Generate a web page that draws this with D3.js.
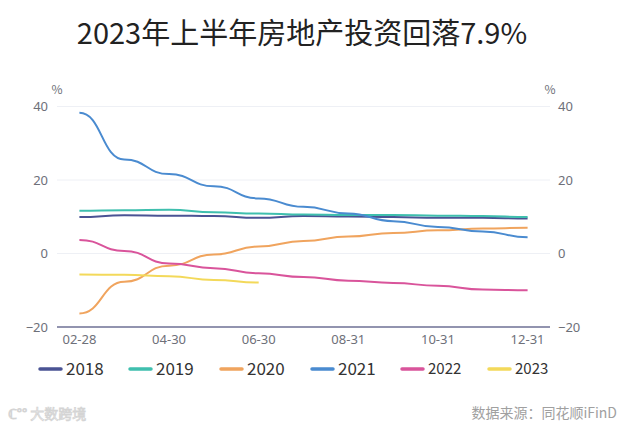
<!DOCTYPE html>
<html>
<head>
<meta charset="utf-8">
<script src="https://cdn.jsdelivr.net/npm/d3@7"></script>
<style>
  body { margin: 0; background: #fff; }
  svg { display: block; font-family: "Noto Sans CJK SC", "Noto Sans", sans-serif; }
</style>
</head>
<body>
<svg id="chart" width="625" height="434"></svg>
<script>
// 月份（累计同比）
const months = ["02-28", "03-31", "04-30", "05-31", "06-30", "07-31", "08-31", "09-30", "10-31", "11-30", "12-31"];
const years = ["2018", "2019", "2020", "2021", "2022", "2023"];
const colors = ["#4a5394", "#3fbfae", "#f0a45e", "#4a8bd0", "#d9549b", "#f3d95a"];

const v2018 = [9.9, 10.4, 10.3, 10.2, 9.7, 10.2, 10.1, 9.9, 9.7, 9.7, 9.5];
const v2019 = [11.6, 11.8, 11.9, 11.2, 10.9, 10.6, 10.5, 10.5, 10.3, 10.2, 9.9];
const v2020 = [-16.3, -7.7, -3.3, -0.3, 1.9, 3.4, 4.6, 5.6, 6.3, 6.8, 7.0];
const v2021 = [38.3, 25.6, 21.6, 18.3, 15.0, 12.7, 10.9, 8.8, 7.2, 6.0, 4.4];
const v2022 = [3.7, 0.7, -2.7, -4.0, -5.4, -6.4, -7.4, -8.0, -8.8, -9.8, -10.0];
const v2023 = [-5.7, -5.8, -6.2, -7.2, -7.9];
const seriesValues = [v2018, v2019, v2020, v2021, v2022, v2023];

const yTicks = [-20, 0, 20, 40];

const svg = d3.select("#chart");

// 绘图区
const plotLeft = 57, plotRight = 550, plotTop = 106.5, plotBottom = 327;

const xScale = d3.scaleBand().domain(months).range([plotLeft, plotRight]);
const xPos = m => xScale(m) + xScale.bandwidth() / 2;
const yScale = d3.scaleLinear().domain([-20, 40]).range([plotBottom, plotTop]);

// 标题
svg.append("text").attr("x", 302).attr("y", 44).attr("text-anchor", "middle")
    .attr("font-size", 29).attr("fill", "#222").text("2023年上半年房地产投资回落7.9%");

// 网格线
svg.append("g").selectAll("line").data(yTicks.filter(d => d !== -20)).join("line")
    .attr("x1", plotLeft).attr("x2", plotRight)
    .attr("y1", d => yScale(d)).attr("y2", d => yScale(d))
    .attr("stroke", "#eef0f5").attr("stroke-width", 1);

// 左右y轴标签
const leftAxis = d3.axisLeft(yScale).tickValues(yTicks).tickSize(0).tickPadding(9);
const gl = svg.append("g").attr("transform", `translate(${plotLeft},0)`).call(leftAxis);
gl.select(".domain").remove();
gl.selectAll("text").attr("font-size", 13).attr("fill", "#6e7079").attr("font-family", "Noto Sans, sans-serif");

const rightAxis = d3.axisRight(yScale).tickValues(yTicks).tickSize(0).tickPadding(8);
const gr = svg.append("g").attr("transform", `translate(${plotRight},0)`).call(rightAxis);
gr.select(".domain").remove();
gr.selectAll("text").attr("font-size", 13).attr("fill", "#6e7079").attr("font-family", "Noto Sans, sans-serif");

// 单位
svg.append("text").attr("x", plotLeft).attr("y", 94).attr("text-anchor", "middle")
    .attr("font-size", 12).attr("fill", "#6e7079").text("%");
svg.append("text").attr("x", plotRight).attr("y", 94).attr("text-anchor", "middle")
    .attr("font-size", 12).attr("fill", "#6e7079").text("%");

// x轴
const xAxis = d3.axisBottom(xScale).tickValues(months.filter((d, i) => i % 2 === 0)).tickSize(0).tickPadding(8);
const gx = svg.append("g").attr("transform", `translate(0,${plotBottom})`).call(xAxis);
gx.select(".domain").remove();
gx.selectAll("text").attr("font-size", 13).attr("fill", "#6e7079").attr("font-family", "Noto Sans, sans-serif");
svg.append("line").attr("x1", plotLeft).attr("x2", plotRight).attr("y1", plotBottom).attr("y2", plotBottom)
    .attr("stroke", "#6e7095").attr("stroke-width", 1.5);

// 折线
const line = d3.line()
    .x((d, i) => xPos(months[i]))
    .y(d => yScale(d))
    .curve(d3.curveBumpX);

seriesValues.forEach((vals, k) => {
    svg.append("path").datum(vals).attr("d", line)
        .attr("fill", "none").attr("stroke", colors[k]).attr("stroke-width", 2);
});

// 图例
const legendX = [40, 130, 221, 312, 402, 489];
const legendSize = [17, 17, 17, 17, 15, 15];
years.forEach((y, k) => {
    const g = svg.append("g").attr("transform", `translate(${legendX[k]},369)`);
    g.append("line").attr("x1", 0).attr("x2", 21).attr("y1", 0).attr("y2", 0)
        .attr("stroke", colors[k]).attr("stroke-width", 3.5).attr("stroke-linecap", "round");
    g.append("text").attr("x", 26).attr("y", 0).attr("dy", "0.36em")
        .attr("font-size", legendSize[k]).attr("fill", "#333").text(y);
});

// 水印与数据来源
svg.append("text").attr("x", 8).attr("y", 419).attr("font-size", 14)
    .attr("fill", "#fff").attr("stroke", "#d4d4d4").attr("stroke-width", 0.8).text("ℂ°° 大数跨境");
svg.append("text").attr("x", 617).attr("y", 418).attr("text-anchor", "end")
    .attr("font-size", 14).attr("fill", "#a0a0a0").text("数据来源：同花顺iFinD");
</script>
</body>
</html>
